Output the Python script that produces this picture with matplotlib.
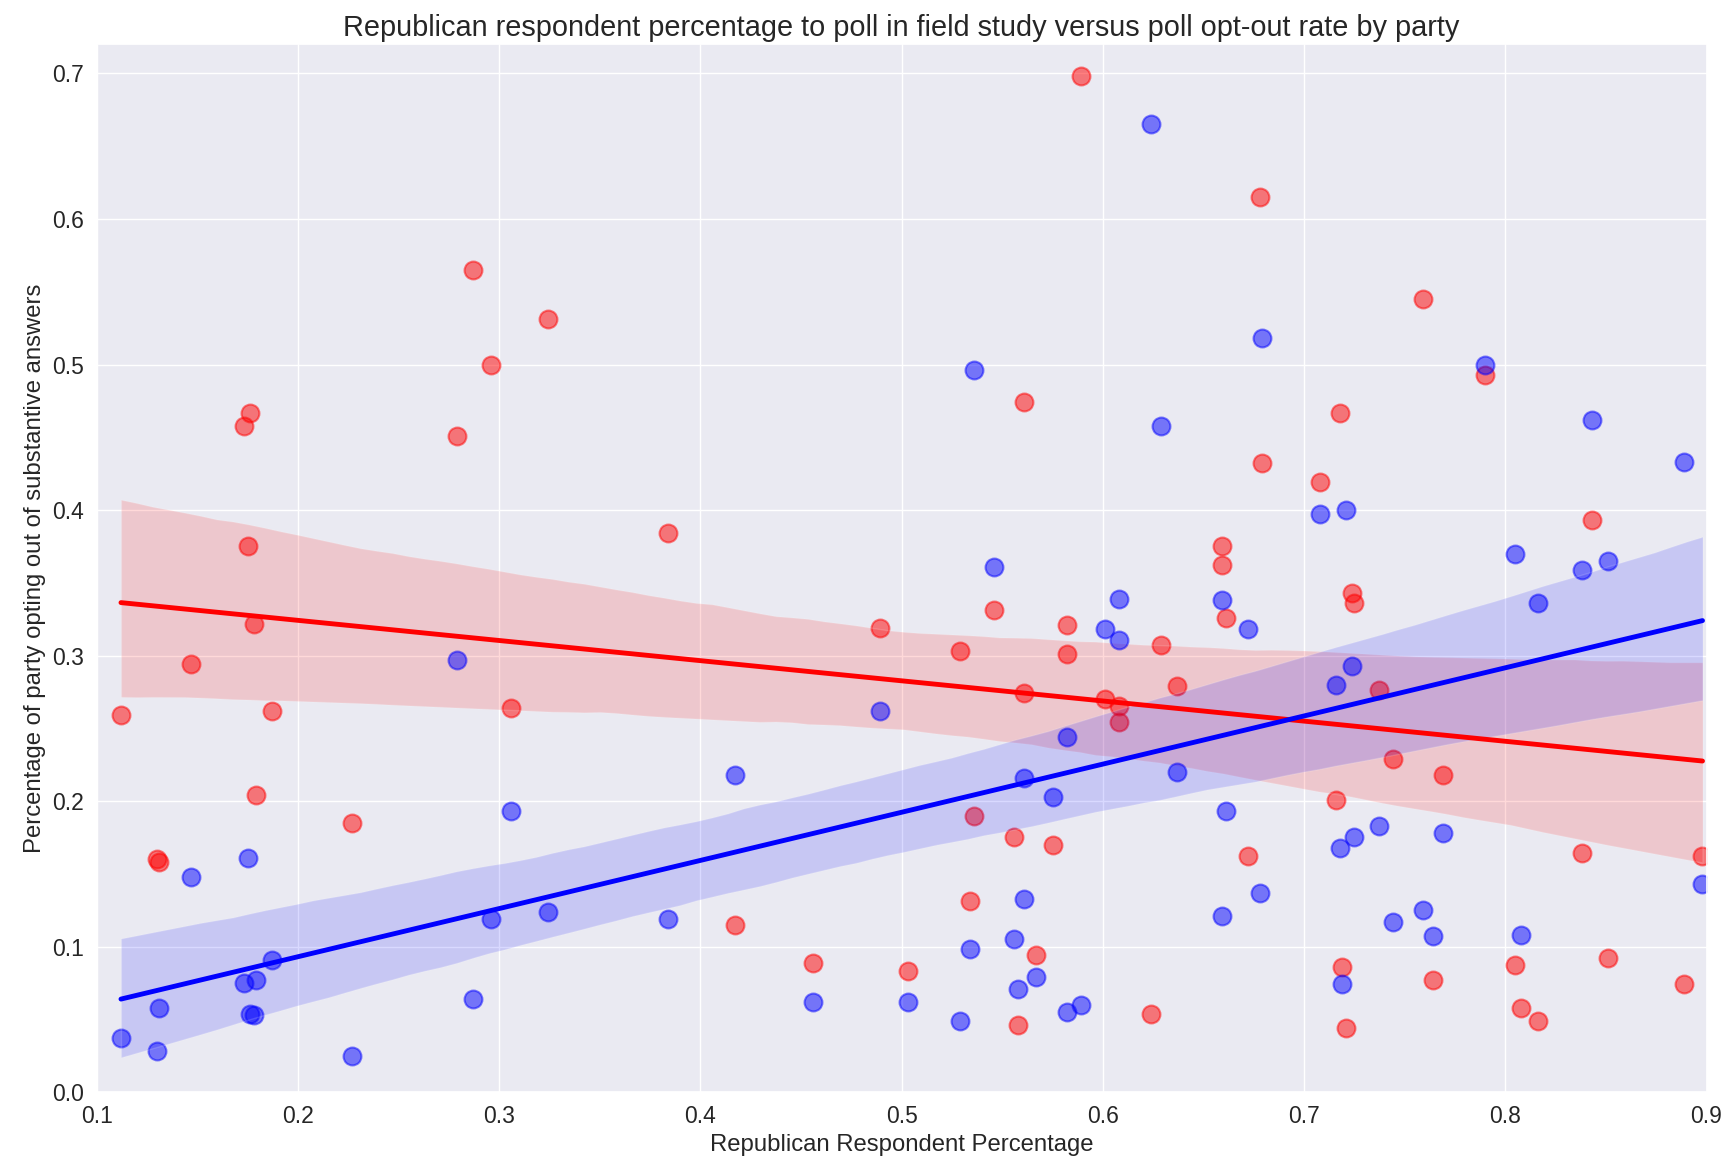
import numpy as np
import matplotlib
matplotlib.use("Agg")
import matplotlib.pyplot as plt
import seaborn as sns

# republican respondent share of each poll
rep_pct = [0.112, 0.130, 0.131, 0.147, 0.173, 0.175, 0.176, 0.178, 0.179, 0.187,
           0.227, 0.279, 0.287, 0.296, 0.306, 0.324, 0.384, 0.417, 0.456, 0.489,
           0.503, 0.529, 0.534, 0.536, 0.546, 0.556, 0.558, 0.561, 0.561, 0.567,
           0.575, 0.582, 0.582, 0.589, 0.601, 0.608, 0.608, 0.624, 0.629, 0.637,
           0.659, 0.659, 0.661, 0.672, 0.678, 0.679, 0.708, 0.716, 0.718, 0.719,
           0.721, 0.724, 0.725, 0.737, 0.744, 0.759, 0.764, 0.769, 0.790, 0.805,
           0.808, 0.816, 0.838, 0.843, 0.851, 0.889, 0.898]

# opt-out rate, republicans
rep_optout = [0.259, 0.160, 0.158, 0.294, 0.458, 0.375, 0.467, 0.322, 0.204, 0.262,
              0.185, 0.451, 0.565, 0.500, 0.264, 0.531, 0.384, 0.115, 0.089, 0.319,
              0.083, 0.303, 0.131, 0.190, 0.331, 0.175, 0.046, 0.474, 0.274, 0.094,
              0.170, 0.321, 0.301, 0.698, 0.270, 0.265, 0.254, 0.054, 0.307, 0.279,
              0.375, 0.362, 0.326, 0.162, 0.615, 0.432, 0.419, 0.201, 0.467, 0.086,
              0.044, 0.343, 0.336, 0.276, 0.229, 0.545, 0.077, 0.218, 0.493, 0.087,
              0.058, 0.049, 0.164, 0.393, 0.092, 0.074, 0.162]

# opt-out rate, democrats
dem_optout = [0.037, 0.028, 0.058, 0.148, 0.075, 0.161, 0.054, 0.053, 0.077, 0.091,
              0.025, 0.297, 0.064, 0.119, 0.193, 0.124, 0.119, 0.218, 0.062, 0.262,
              0.062, 0.049, 0.098, 0.496, 0.361, 0.105, 0.071, 0.216, 0.133, 0.079,
              0.203, 0.244, 0.055, 0.060, 0.318, 0.339, 0.311, 0.665, 0.458, 0.220,
              0.338, 0.121, 0.193, 0.318, 0.137, 0.518, 0.397, 0.280, 0.168, 0.074,
              0.400, 0.293, 0.175, 0.183, 0.117, 0.125, 0.107, 0.178, 0.500, 0.370,
              0.108, 0.336, 0.359, 0.462, 0.365, 0.433, 0.143]

sns.set_theme(style="darkgrid")
plt.rcParams['font.family'] = ['Liberation Sans', 'DejaVu Sans']

fig, ax = plt.subplots(figsize=(17.29, 11.68), dpi=100)
fig.subplots_adjust(left=0.056, right=0.987, top=0.962, bottom=0.065)

sns.regplot(x=np.array(rep_pct), y=np.array(rep_optout), ax=ax, color='red', seed=0,
            scatter_kws={'s': 165, 'alpha': 0.5, 'linewidths': 1.5},
            line_kws={'linewidth': 3.5})
sns.regplot(x=np.array(rep_pct), y=np.array(dem_optout), ax=ax, color='blue', seed=0,
            scatter_kws={'s': 165, 'alpha': 0.5, 'linewidths': 1.5},
            line_kws={'linewidth': 3.5})

ax.set_xlim(0.1, 0.9)
ax.set_ylim(0.0, 0.72)
ax.set_yticks(np.arange(0, 0.71, 0.1))
ax.tick_params(labelsize=16.5)
ax.set_xlabel("Republican Respondent Percentage", fontsize=17.2)
ax.set_ylabel("Percentage of party opting out of substantive answers", fontsize=17.2)
ax.set_title("Republican respondent percentage to poll in field study versus poll opt-out rate by party",
             fontsize=20.8)

plt.savefig("out.png")
